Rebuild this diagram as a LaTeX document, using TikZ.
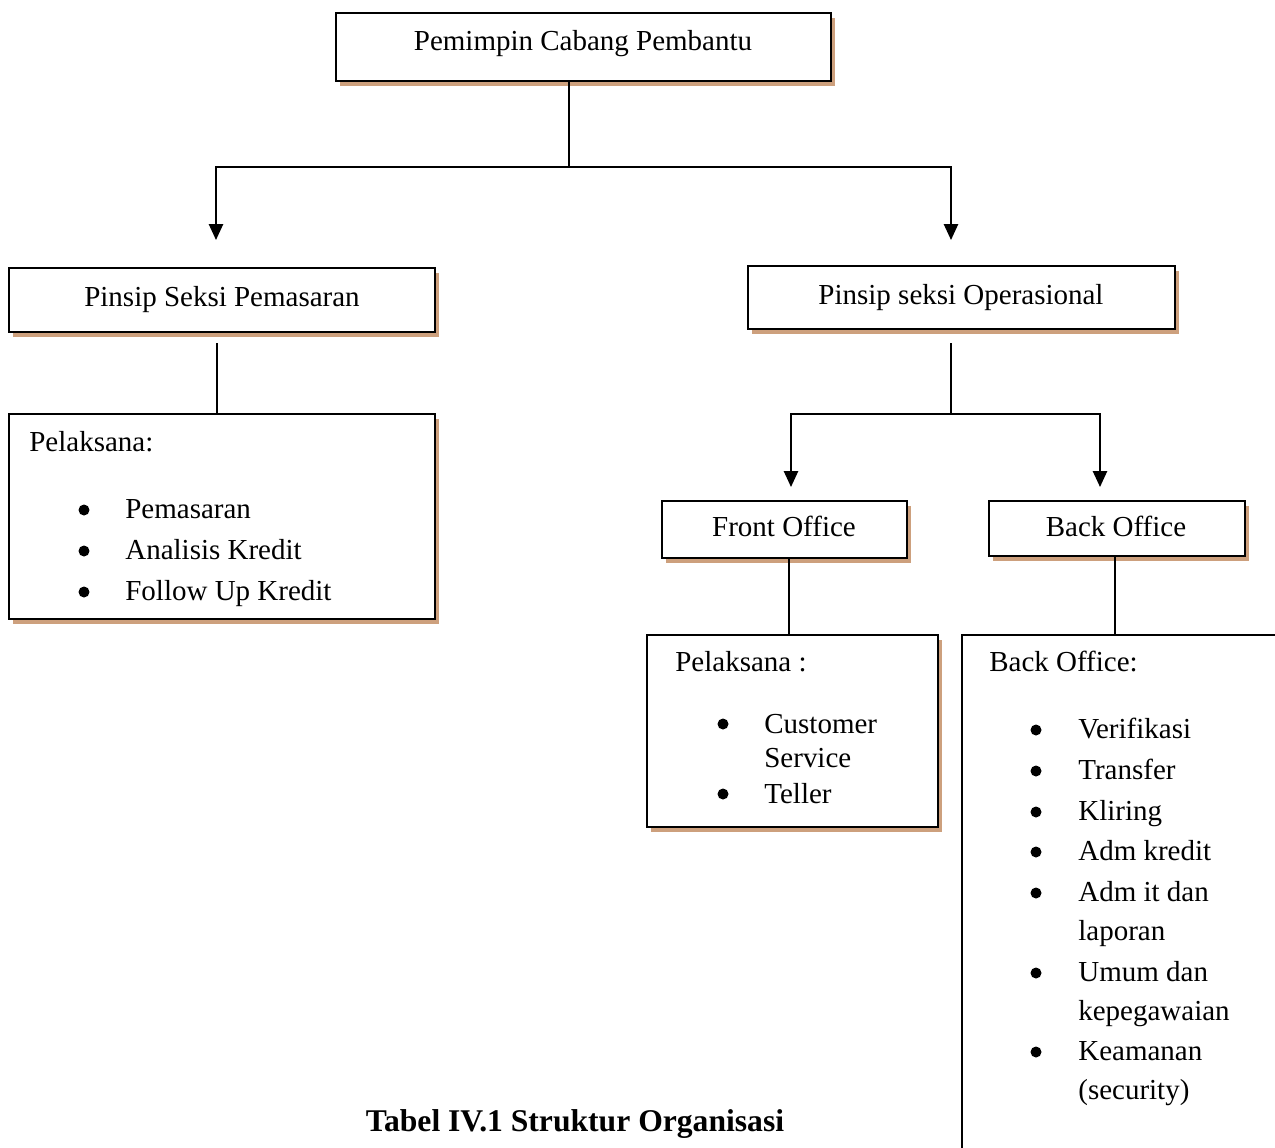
\documentclass[tikz,border=0pt]{standalone}
\usepackage{fontspec}
\setmainfont{Liberation Serif}
\usetikzlibrary{arrows.meta,shadows,fit}
\definecolor{shadowtan}{RGB}{205,160,125}
\begin{document}
\begin{tikzpicture}[x=0.02cm,y=-0.02cm,
  box/.style={draw=black, line width=1.1pt, fill=white, inner sep=0pt,
    drop shadow={shadow xshift=0.08cm, shadow yshift=-0.1cm, fill=shadowtan, opacity=1}},
  plainbox/.style={draw=black, line width=1.1pt, fill=white, inner sep=0pt},
  txt/.style={inner sep=0pt, anchor=base west, font=\fontsize{16.5}{20}\selectfont},
  ctxt/.style={txt, anchor=base},
  bul/.style={circle, fill=black, inner sep=0pt, minimum size=0.22cm},
  conn/.style={line width=1.1pt},
  arr/.style={conn, -{Triangle[length=9pt,width=8pt]}},
]
\useasboundingbox (0,0) rectangle (1275,1147);
\clip (0,0) rectangle (1275,1147);
\fill[white] (0,0) rectangle (1275,1147);

% boxes
\node[box, fit={(336,13) (831,81)}] (top) {};
\node[box, fit={(9,268) (435,332)}] (lbox) {};
\node[box, fit={(748,266) (1175,329)}] (rbox) {};
\node[box, fit={(9,414) (435,619)}] (lpel) {};
\node[box, fit={(662,501) (907,558)}] (fo) {};
\node[box, fit={(989,501) (1245,556)}] (bo) {};
\node[box, fit={(647,635) (938,827)}] (fopel) {};
\node[plainbox, fit={(962,635) (1320,1190)}] (bopel) {};

% connectors
\coordinate (j1) at (569,167);
\coordinate (a1) at (216,240);
\coordinate (a2) at (951,240);
\draw[conn] (top.south -| j1) -- (j1);
\draw[arr] (j1) -| (a1);
\draw[arr] (j1) -| (a2);

\coordinate (l1) at (217,343);
\draw[conn] (l1) -- (l1 |- lpel.north);

\coordinate (r1) at (951,343);
\coordinate (j2) at (951,414);
\coordinate (a3) at (791,487);
\coordinate (a4) at (1100,487);
\draw[conn] (r1) -- (j2);
\draw[arr] (j2) -| (a3);
\draw[arr] (j2) -| (a4);

\coordinate (c1) at (789,600);
\draw[conn] (fo.south -| c1) -- (fopel.north -| c1);
\coordinate (c2) at (1115,600);
\draw[conn] (bo.south -| c2) -- (bopel.north -| c2);

% titles
\node[ctxt] (t0) at (583,50) {Pemimpin Cabang Pembantu};
\node[ctxt] (t1) at (222,306) {Pinsip Seksi Pemasaran};
\node[ctxt] (t2) at (961,304) {Pinsip seksi Operasional};
\node[ctxt] (t3) at (784,536) {Front Office};
\node[ctxt] (t4) at (1116,536) {Back Office};

% left list
\node[txt] (lp0) at (29,451) {Pelaksana:};
\node[bul] (lb1) at (84,510) {};
\node[bul] (lb2) at (84,551) {};
\node[bul] (lb3) at (84,592) {};
\node[txt] (li1) at (125,518) {Pemasaran};
\node[txt] (li2) at (125,559) {Analisis Kredit};
\node[txt] (li3) at (125,600) {Follow Up Kredit};

% front office list
\node[txt] (fp0) at (675,671) {Pelaksana :};
\node[bul] (fb1) at (723,724) {};
\node[bul] (fb2) at (723,794) {};
\node[txt] (fi1) at (764,733) {Customer};
\node[txt] (fi1b) at (764,767) {Service};
\node[txt] (fi2) at (764,803) {Teller};

% back office list
\node[txt] (bp0) at (989,671) {Back Office:};
\foreach \y [count=\i] in {730,771,812,852,893,973,1052}
  \node[bul] (bb\i) at (1036,\y) {};
\node[txt] (bi1) at (1078,738) {Verifikasi};
\node[txt] (bi2) at (1078,779) {Transfer};
\node[txt] (bi3) at (1078,820) {Kliring};
\node[txt] (bi4) at (1078,860) {Adm kredit};
\node[txt] (bi5) at (1078,901) {Adm it dan};
\node[txt] (bi5b) at (1078,940) {laporan};
\node[txt] (bi6) at (1078,981) {Umum dan};
\node[txt] (bi6b) at (1078,1020) {kepegawaian};
\node[txt] (bi7) at (1078,1060) {Keamanan};
\node[txt] (bi7b) at (1078,1099) {(security)};

% caption
\node[inner sep=0pt, anchor=base, font=\fontsize{18}{22}\selectfont\bfseries] (cap) at (575,1131) {Tabel IV.1 Struktur Organisasi};
\end{tikzpicture}
\end{document}
